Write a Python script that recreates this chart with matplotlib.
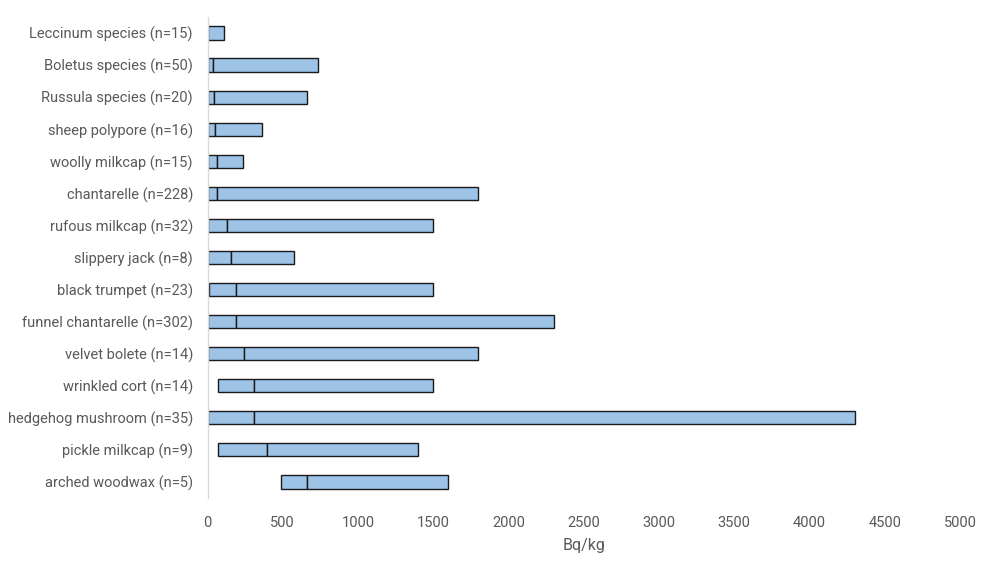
import matplotlib
matplotlib.use("Agg")
import matplotlib.pyplot as plt

categories = ["Leccinum species (n=15)", "Boletus species (n=50)", "Russula species (n=20)",
              "sheep polypore (n=16)", "woolly milkcap (n=15)", "chantarelle (n=228)",
              "rufous milkcap (n=32)", "slippery jack (n=8)", "black trumpet (n=23)",
              "funnel chantarelle (n=302)", "velvet bolete (n=14)", "wrinkled cort (n=14)",
              "hedgehog mushroom (n=35)", "pickle milkcap (n=9)", "arched woodwax (n=5)"]
minimum = [5, 5, 5, 5, 5, 5, 5, 5, 10, 5, 5, 69, 5, 73, 490]
median = [5, 35, 46, 53, 62, 64, 131, 153, 191, 190, 244, 312, 310, 395, 662]
maximum = [110, 733, 658, 361, 233, 1800, 1500, 574, 1500, 2300, 1800, 1500, 4300, 1400, 1600]
xticks = [0, 500, 1000, 1500, 2000, 2500, 3000, 3500, 4000, 4500, 5000]

fig = plt.figure(figsize=(10, 5.65), dpi=100)
ax = fig.add_axes([0.2075, 0.1186, 0.7525, 0.8514])

fill = "#9DC3E6"
edge = "#1a1a1a"
ypos = list(range(len(categories)))
lower = [m - lo for m, lo in zip(median, minimum)]
upper = [hi - m for hi, m in zip(maximum, median)]
ax.barh(ypos, lower, left=minimum, height=0.41, color=fill, edgecolor=edge, linewidth=1.0)
ax.barh(ypos, upper, left=median, height=0.41, color=fill, edgecolor=edge, linewidth=1.0)

ax.set_ylim(len(categories) - 0.5, -0.5)
ax.set_xlim(0, 5000)
ax.set_yticks(ypos)
ax.set_yticklabels(categories)
ax.set_xticks(xticks)
ax.set_xticklabels([str(t) for t in xticks])
ax.tick_params(axis="both", length=0, colors="#595959", labelsize=10.5)
ax.tick_params(axis="y", pad=10.5)
ax.tick_params(axis="x", pad=13)
for lab in ax.get_xticklabels() + ax.get_yticklabels():
    lab.set_family(["Roboto", "DejaVu Sans"])
for s in ["top", "right", "bottom"]:
    ax.spines[s].set_visible(False)
ax.spines["left"].set_color("#D9D9D9")
ax.spines["left"].set_linewidth(1.0)
ax.set_xlabel("Bq/kg", color="#595959", fontsize=11.5, family=["Roboto", "DejaVu Sans"], labelpad=6)

fig.savefig("out.png", dpi=100)
